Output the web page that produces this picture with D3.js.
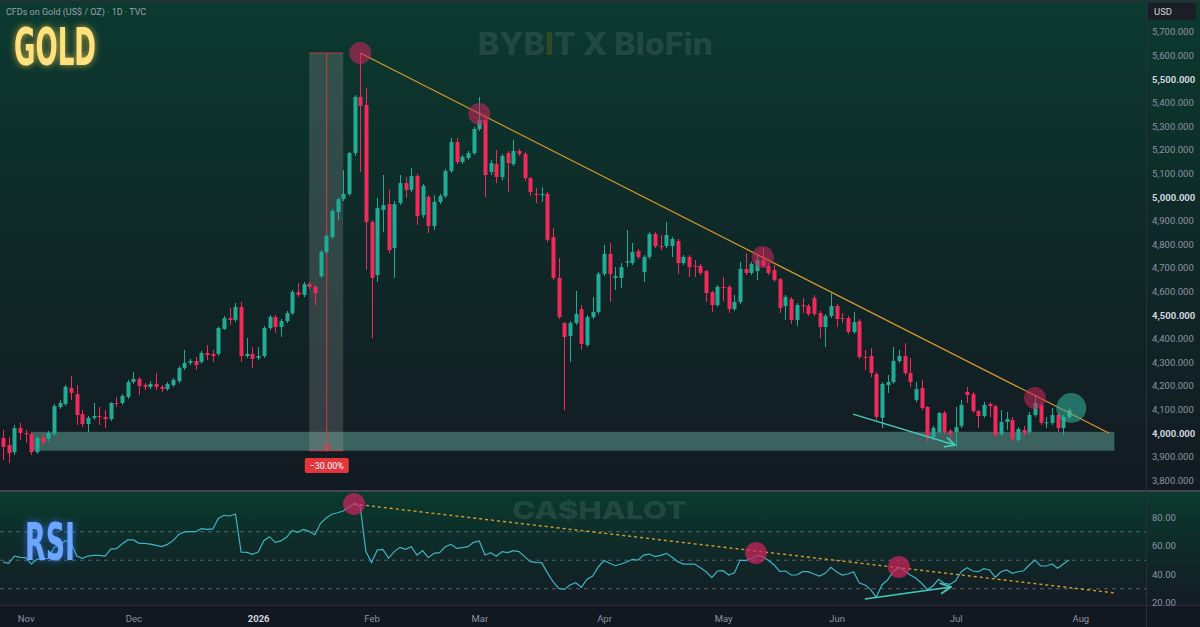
<!DOCTYPE html>
<html>
<head>
<meta charset="utf-8">
<script src="https://cdn.jsdelivr.net/npm/d3@7"></script>
<style>
html, body { margin: 0; padding: 0; background: #131722; overflow: hidden; }
</style>
</head>
<body>
<svg id="chart" width="1200" height="627"></svg>
<script>
// daily candles (USD / oz)
var opens = [3979,3949,3919,4021,4000,3996,3919,3979,3975,3996,
4110,4123,4191,4165,4080,4038,4064,4072,4068,4059,
4127,4127,4153,4216,4229,4203,4195,4208,4195,4186,
4203,4220,4275,4297,4305,4301,4339,4335,4335,4441,
4487,4479,4534,4326,4335,4318,4326,4445,4491,4449,
4474,4508,4597,4585,4631,4619,4665,4767,4830,4936,
4991,5013,5186,5424,5390,4894,4669,4945,4970,4784,
4975,5059,5030,5089,4923,5000,4877,4979,5004,5110,
5233,5148,5165,5186,5288,5326,5106,5140,5085,5186,
5140,5195,5182,5080,5013,5008,5013,4830,4657,4466,
4411,4466,4525,4373,4491,4513,4674,4759,4657,4657,
4722,4720,4771,4682,4746,4843,4792,4792,4792,4813,
4720,4746,4708,4708,4686,4597,4542,4619,4619,4525,
4555,4695,4678,4686,4733,4708,4691,4652,4538,4568,
4479,4542,4538,4572,4508,4449,4496,4538,4487,4487,
4428,4474,4322,4326,4250,4064,4203,4216,4305,4326,
4254,4140,4191,4110,3983,4004,4085,4009,4004,4030,
4174,4165,4093,4072,4123,4114,3996,4047,4055,3970,
4013,4004,4076,4119,4043,4043,4076,4021,4068];
var highs = [4013,3983,4034,4043,4013,4005,3987,3996,4009,4123,
4140,4203,4242,4203,4097,4072,4127,4110,4097,4131,
4153,4165,4225,4259,4237,4212,4220,4254,4203,4216,
4233,4284,4352,4314,4322,4348,4373,4352,4450,4496,
4530,4551,4555,4403,4364,4364,4453,4500,4500,4483,
4517,4606,4636,4640,4640,4627,4775,4843,4949,4996,
5114,5191,5432,5610,5462,4902,4996,5093,5030,4983,
5093,5085,5123,5098,5055,5008,5008,5013,5119,5250,
5250,5178,5195,5297,5424,5335,5157,5199,5182,5195,
5242,5204,5191,5085,5038,5042,5021,4869,4741,4470,
4474,4602,4542,4500,4576,4682,4797,4805,4703,4720,
4860,4805,4780,4754,4851,4851,4839,4894,4830,4822,
4754,4754,4733,4716,4691,4602,4627,4661,4627,4585,
4725,4762,4725,4754,4784,4720,4712,4657,4585,4576,
4551,4572,4547,4585,4517,4504,4593,4547,4508,4496,
4513,4483,4352,4360,4259,4216,4246,4364,4352,4381,
4318,4216,4225,4114,4030,4089,4093,4017,4110,4140,
4195,4174,4097,4131,4131,4119,4097,4089,4068,4025,
4030,4089,4161,4127,4068,4106,4085,4076,4106];
var lows = [3886,3873,3907,3970,3958,3907,3911,3949,3966,3987,
4102,4114,4140,4034,4025,4004,4055,4034,4021,4051,
4110,4119,4144,4208,4161,4182,4186,4182,4174,4178,
4195,4212,4267,4288,4267,4293,4309,4301,4326,4436,
4458,4470,4301,4318,4275,4309,4318,4436,4424,4407,
4466,4500,4576,4576,4610,4542,4657,4759,4822,4902,
4983,5004,5174,5106,4691,4402,4640,4851,4762,4657,
4966,4996,5021,4881,4911,4847,4860,4970,4996,5102,
5140,5140,5157,5178,5280,4999,5093,5059,5072,5021,
5131,5174,5068,5004,4974,4979,4809,4648,4483,4097,
4301,4458,4352,4364,4483,4504,4665,4555,4606,4614,
4703,4712,4737,4640,4737,4784,4775,4784,4746,4674,
4712,4661,4661,4669,4555,4513,4534,4559,4508,4517,
4547,4669,4669,4648,4699,4669,4640,4508,4479,4462,
4453,4508,4496,4496,4402,4364,4487,4449,4466,4419,
4419,4314,4267,4237,4055,4021,4170,4208,4297,4246,
4195,4131,4097,3962,3970,3996,3996,3970,3941,4021,
4127,4085,4021,4064,4068,3983,3987,4013,3966,3962,
3987,3996,4068,4034,4021,4034,4004,3991,4059];
var closes = [3941,3915,4021,4000,3996,3919,3979,3962,4000,4114,
4127,4195,4170,4076,4038,4064,4072,4068,4059,4127,
4123,4157,4216,4229,4199,4195,4208,4195,4186,4208,
4225,4275,4297,4305,4288,4339,4330,4326,4445,4487,
4479,4534,4326,4335,4314,4326,4445,4491,4449,4474,
4508,4597,4585,4631,4619,4593,4767,4835,4941,4991,
5013,5186,5424,5386,4894,4657,4953,4966,4775,4970,
5059,5030,5089,4919,5047,4877,4979,5004,5110,5233,
5148,5170,5186,5288,5326,5093,5144,5085,5174,5144,
5195,5182,5080,5021,5008,5013,4818,4657,4491,4407,
4466,4504,4377,4491,4513,4674,4759,4674,4665,4703,
4728,4767,4746,4746,4843,4792,4790,4839,4822,4720,
4746,4703,4706,4678,4593,4542,4619,4617,4525,4555,
4695,4678,4716,4733,4708,4678,4648,4530,4576,4479,
4542,4538,4504,4504,4449,4496,4538,4483,4483,4428,
4470,4322,4318,4254,4068,4208,4216,4305,4326,4254,
4216,4186,4106,3983,4021,4085,4004,3996,4025,4119,
4161,4093,4072,4119,4114,3991,4047,4059,3975,4017,
4000,4076,4127,4043,4045,4076,4021,4068,4097];

// RSI (14)
var rsi = [48.4,47.5,52.6,51.7,51.5,47.0,50.3,50.8,51.0,58.7,
60.4,63.4,62.0,52.6,51.0,52.6,53.1,53.1,52.6,57.5,
57.8,61.0,63.9,63.9,61.5,61.5,61.0,60.1,59.2,60.8,
63.4,67.8,69.5,69.7,69.7,71.8,71.3,71.6,79.1,81.2,
80.7,82.1,55.4,55.2,53.8,55.4,63.4,66.2,62.2,63.2,
65.7,70.4,69.2,71.3,69.9,67.6,75.6,79.3,81.9,83.0,
84.2,86.8,89.6,87.3,55.7,48.0,56.8,57.3,51.0,55.7,
58.7,57.3,59.2,53.3,56.4,51.5,54.5,55.0,59.2,60.8,
58.0,58.5,59.2,62.2,63.2,53.3,55.0,52.4,55.7,55.0,
56.4,55.7,52.2,48.7,48.2,48.0,41.0,34.6,29.9,29.2,
32.3,33.9,30.6,36.3,38.6,45.1,49.4,47.5,45.8,47.0,
48.4,50.3,49.8,53.3,54.0,52.2,53.1,54.5,51.7,48.7,
47.0,47.0,47.0,44.4,41.6,37.4,42.1,42.3,39.3,40.9,
49.8,49.4,51.0,53.1,52.2,49.4,46.3,41.9,42.1,39.3,
39.3,41.6,41.6,40.0,38.6,40.5,44.7,41.6,39.3,40.0,
41.6,33.9,32.3,29.2,23.6,32.3,35.8,41.6,44.7,42.1,
39.3,37.0,33.5,29.2,31.6,36.3,33.5,32.7,35.3,41.6,
44.4,42.1,41.6,43.7,42.8,37.7,41.6,42.8,40.5,41.6,
42.3,46.3,49.8,45.6,45.6,47.0,44.0,47.0,49.8];

// axis labels
var monthLabels = ["Nov","Dec","2026","Feb","Mar","Apr","May","Jun","Jul","Aug"];
var monthBars = [4,23,45,65,84,106,127,147,168,190];
var priceTicks = [3800,3900,4000,4100,4200,4300,4400,4500,4600,4700,4800,4900,5000,5100,5200,5300,5400,5500,5600,5700];
var rsiTicks = [20,40,60,80];
var rsiLevels = [30,50,70];

// drawings (bar index / price or rsi value)
var priceHighs = [[63,5610],[84,5352],[134,4746],[182,4148]];
var breakout = [188.4,4106];
var trendLine = [[63,5610],[195,4000]];
var supportZone = {from:5, to:196, low:3925, high:4005};
var drawdown = {from:54, to:60, mid:57.1, top:5610, bottom:3925, label:"\u221230.00%"};
var priceArrow = [[149.9,4080],[167.9,3949]];
var rsiHighs = [[61.9,89.1],[132.8,54.7],[158,44.9]];
var rsiTrend = [[61.9,89.1],[196.1,26.7]];
var rsiArrow = [[152,22.5],[167.2,30.9]];

var W = 1200, H = 627, axisX = 1146, paneSplit = 491, rsiBottom = 605;
var up = "#22ab94", down = "#f2295b";

var svg = d3.select("#chart");
var defs = svg.append("defs");

var g1 = defs.append("linearGradient").attr("id","bgMain").attr("x1",0).attr("y1",0).attr("x2",0).attr("y2",1);
g1.append("stop").attr("offset","0%").attr("stop-color","#0b3a2f");
g1.append("stop").attr("offset","45%").attr("stop-color","#0f2a28");
g1.append("stop").attr("offset","100%").attr("stop-color","#131a22");
var g2 = defs.append("linearGradient").attr("id","bgRsi").attr("x1",0).attr("y1",0).attr("x2",0).attr("y2",1);
g2.append("stop").attr("offset","0%").attr("stop-color","#0a3a2d");
g2.append("stop").attr("offset","100%").attr("stop-color","#141b24");

// soft halo behind the big labels
function glow(id, sd, color){
  var f = defs.append("filter").attr("id",id).attr("x","-40%").attr("y","-40%").attr("width","180%").attr("height","180%");
  f.append("feGaussianBlur").attr("in","SourceAlpha").attr("stdDeviation",sd).attr("result","b");
  f.append("feFlood").attr("flood-color",color).attr("flood-opacity",0.75).attr("result","c");
  f.append("feComposite").attr("in","c").attr("in2","b").attr("operator","in").attr("result","halo");
  var m = f.append("feMerge");
  m.append("feMergeNode").attr("in","halo");
  m.append("feMergeNode").attr("in","SourceGraphic");
}
glow("glowGold", 3.5, "#f5c842");
glow("glowBlue", 3.5, "#2f7bff");

function arrowMarker(id, color){
  defs.append("marker").attr("id",id).attr("viewBox","0 0 10 10").attr("refX",9).attr("refY",5)
    .attr("markerWidth",9).attr("markerHeight",9).attr("orient","auto")
    .append("path").attr("d","M1,1 L9,5 L1,9").attr("fill","none").attr("stroke",color).attr("stroke-width",1.4);
}
arrowMarker("arrTeal","#45c9b8");
arrowMarker("arrRed","#f23645");

defs.append("clipPath").attr("id","clipMain").append("rect").attr("x",0).attr("y",0).attr("width",axisX).attr("height",paneSplit);
defs.append("clipPath").attr("id","clipRsi").append("rect").attr("x",0).attr("y",paneSplit).attr("width",axisX).attr("height",rsiBottom-paneSplit);

// backgrounds
svg.append("rect").attr("width",W).attr("height",H).attr("fill","#131722");
svg.append("rect").attr("x",0).attr("y",0).attr("width",W).attr("height",paneSplit).attr("fill","url(#bgMain)");
svg.append("rect").attr("x",0).attr("y",paneSplit).attr("width",W).attr("height",rsiBottom-paneSplit).attr("fill","url(#bgRsi)");

// scales
var x = d3.scaleLinear().domain([0,188]).range([3,1069]);
var y = d3.scaleLinear().domain([4000,5000]).range([433,197]);
var yr = d3.scaleLinear().domain([40,80]).range([574,517]);

// watermarks
var wm = svg.append("g").attr("fill","#ffffff").attr("fill-opacity",0.11)
  .attr("font-family","Inter, 'Liberation Sans', sans-serif").attr("font-weight",800);
var bb = wm.append("text").attr("x",478).attr("y",55).attr("font-size",31).attr("textLength",235).attr("lengthAdjust","spacingAndGlyphs");
bb.append("tspan").text("BYB");
bb.append("tspan").attr("fill","#f7a600").attr("fill-opacity",0.16).text("I");
bb.append("tspan").text("T  X  BloFin");
wm.append("text").attr("x",512).attr("y",519).attr("font-size",25).attr("textLength",175).attr("lengthAdjust","spacingAndGlyphs").text("CA$HALOT");

var main = svg.append("g").attr("clip-path","url(#clipMain)");

// support zone
main.append("rect")
  .attr("x",x(supportZone.from)).attr("width",x(supportZone.to)-x(supportZone.from))
  .attr("y",y(supportZone.high)).attr("height",y(supportZone.low)-y(supportZone.high))
  .attr("fill","#7fd1c0").attr("fill-opacity",0.38);

// drawdown measure
var ddx0 = x(drawdown.from), ddx1 = x(drawdown.to), ddm = x(drawdown.mid);
main.append("rect").attr("x",ddx0).attr("width",ddx1-ddx0)
  .attr("y",y(drawdown.top)).attr("height",y(drawdown.bottom)-y(drawdown.top))
  .attr("fill","#b0b0b0").attr("fill-opacity",0.22);
main.selectAll("line.ddh").data([drawdown.top, drawdown.bottom]).enter().append("line")
  .attr("x1",ddx0).attr("x2",ddx1).attr("y1",function(d){return y(d);}).attr("y2",function(d){return y(d);})
  .attr("stroke","#f23645").attr("stroke-opacity",0.8).attr("stroke-width",1);
main.append("line").attr("x1",ddm).attr("x2",ddm).attr("y1",y(drawdown.top)).attr("y2",y(drawdown.bottom))
  .attr("stroke","#f23645").attr("stroke-opacity",0.85).attr("stroke-width",1).attr("marker-end","url(#arrRed)");

// candles
var bars = d3.range(closes.length).map(function(i){
  return {i:i, o:opens[i], h:highs[i], l:lows[i], c:closes[i]};
});
var cg = main.append("g");
cg.selectAll("line.wick").data(bars).enter().append("line")
  .attr("x1",function(d){return Math.round(x(d.i))+0.5;}).attr("x2",function(d){return Math.round(x(d.i))+0.5;})
  .attr("y1",function(d){return y(d.h);}).attr("y2",function(d){return y(d.l);})
  .attr("stroke",function(d){return d.c>=d.o?up:down;}).attr("stroke-width",1);
cg.selectAll("rect.body").data(bars).enter().append("rect")
  .attr("x",function(d){return Math.round(x(d.i))-1.5;}).attr("width",4)
  .attr("y",function(d){return y(Math.max(d.o,d.c));})
  .attr("height",function(d){return Math.max(1,Math.abs(y(d.o)-y(d.c)));})
  .attr("fill",function(d){return d.c>=d.o?up:down;});

// trend line and marks
main.append("line")
  .attr("x1",x(trendLine[0][0])).attr("y1",y(trendLine[0][1]))
  .attr("x2",x(trendLine[1][0])).attr("y2",y(trendLine[1][1]))
  .attr("stroke","#d79a2b").attr("stroke-width",1.2);
main.selectAll("circle.hi").data(priceHighs).enter().append("circle")
  .attr("cx",function(d){return x(d[0]);}).attr("cy",function(d){return y(d[1]);}).attr("r",11)
  .attr("fill","#d2245e").attr("fill-opacity",0.55);
main.append("circle").attr("cx",x(breakout[0])).attr("cy",y(breakout[1])).attr("r",15)
  .attr("fill","#34b59c").attr("fill-opacity",0.55);
main.append("line")
  .attr("x1",x(priceArrow[0][0])).attr("y1",y(priceArrow[0][1]))
  .attr("x2",x(priceArrow[1][0])).attr("y2",y(priceArrow[1][1]))
  .attr("stroke","#45c9b8").attr("stroke-width",1.4).attr("marker-end","url(#arrTeal)");

// drawdown label
svg.append("rect").attr("x",ddm-22).attr("y",458).attr("width",44).attr("height",15).attr("rx",2).attr("fill","#e2363c");
svg.append("text").attr("x",ddm).attr("y",468.5).attr("text-anchor","middle").attr("fill","#ffffff")
  .attr("font-family","Roboto, sans-serif").attr("font-size",9).text(drawdown.label);

// RSI pane
var rp = svg.append("g").attr("clip-path","url(#clipRsi)");
rp.selectAll("line.lvl").data(rsiLevels).enter().append("line")
  .attr("x1",0).attr("x2",axisX).attr("y1",function(d){return yr(d)+0.5;}).attr("y2",function(d){return yr(d)+0.5;})
  .attr("stroke","#787b86").attr("stroke-opacity",0.7).attr("stroke-dasharray","4,4");
rp.append("line")
  .attr("x1",x(rsiTrend[0][0])).attr("y1",yr(rsiTrend[0][1]))
  .attr("x2",x(rsiTrend[1][0])).attr("y2",yr(rsiTrend[1][1]))
  .attr("stroke","#d79a2b").attr("stroke-width",1.4).attr("stroke-dasharray","3,3");
rp.append("path").datum(rsi)
  .attr("d",d3.line().x(function(d,i){return x(i);}).y(function(d){return yr(d);}))
  .attr("fill","none").attr("stroke","#3fb3c3").attr("stroke-width",1.2);
rp.selectAll("circle.rh").data(rsiHighs).enter().append("circle")
  .attr("cx",function(d){return x(d[0]);}).attr("cy",function(d){return yr(d[1]);}).attr("r",11)
  .attr("fill","#d2245e").attr("fill-opacity",0.7);
rp.append("line")
  .attr("x1",x(rsiArrow[0][0])).attr("y1",yr(rsiArrow[0][1]))
  .attr("x2",x(rsiArrow[1][0])).attr("y2",yr(rsiArrow[1][1]))
  .attr("stroke","#45c9b8").attr("stroke-width",1.5).attr("marker-end","url(#arrTeal)");

// pane borders
svg.append("line").attr("x1",0).attr("x2",W).attr("y1",paneSplit).attr("y2",paneSplit).attr("stroke","#434651").attr("stroke-width",2);
svg.append("line").attr("x1",axisX+0.5).attr("x2",axisX+0.5).attr("y1",0).attr("y2",H).attr("stroke","#2a2e39");
svg.append("line").attr("x1",0).attr("x2",W).attr("y1",rsiBottom+0.5).attr("y2",rsiBottom+0.5).attr("stroke","#2a2e39");
svg.append("rect").attr("x",0).attr("y",0).attr("width",W).attr("height",1.5).attr("fill","#2a2e39");

// price axis
var pa = svg.append("g").attr("transform","translate(" + (axisX+6) + ",0)")
  .call(d3.axisRight(y).tickValues(priceTicks).tickFormat(d3.format(",.3f")).tickSize(0).tickPadding(0));
pa.select(".domain").remove();
pa.selectAll("text").attr("font-family","Roboto, sans-serif").attr("font-size",9.5)
  .attr("fill",function(d){return d%500===0?"#d1d4dc":"#8c93a0";})
  .attr("font-weight",function(d){return d%500===0?"bold":"normal";});

svg.append("rect").attr("x",axisX+2).attr("y",3).attr("width",48).attr("height",17).attr("rx",2).attr("fill","#1b1e25");
svg.append("text").attr("x",axisX+8).attr("y",15).attr("fill","#d1d4dc").attr("font-family","Roboto, sans-serif").attr("font-size",9.5).text("USD");

// rsi axis
var ra = svg.append("g").attr("transform","translate(" + (axisX+6) + ",0)")
  .call(d3.axisRight(yr).tickValues(rsiTicks).tickFormat(d3.format(".2f")).tickSize(0).tickPadding(0));
ra.select(".domain").remove();
ra.selectAll("text").attr("font-family","Roboto, sans-serif").attr("font-size",9.5).attr("fill","#8c93a0");

// time axis
var ta = svg.append("g").attr("transform","translate(0," + (rsiBottom+3) + ")")
  .call(d3.axisBottom(x).tickValues(monthBars).tickFormat(function(d,k){return monthLabels[k];}).tickSize(0).tickPadding(7));
ta.select(".domain").remove();
ta.selectAll("text").attr("font-family","Roboto, sans-serif").attr("font-size",9.5)
  .attr("fill",function(d,k){return monthLabels[k]==="2026"?"#d1d4dc":"#8c93a0";})
  .attr("font-weight",function(d,k){return monthLabels[k]==="2026"?"bold":"normal";});

// titles
svg.append("text").attr("x",6).attr("y",15).attr("fill","#9ba1ad").attr("font-family","Roboto, sans-serif")
  .attr("font-size",9).text("CFDs on Gold (US$ / OZ) \u00b7 1D \u00b7 TVC");
svg.append("text").attr("x",14).attr("y",65).attr("fill","#ffe27e").attr("filter","url(#glowGold)")
  .attr("font-family","'Liberation Sans Narrow','DejaVu Sans Condensed',sans-serif").attr("font-weight","bold")
  .attr("font-size",51).attr("textLength",82).attr("lengthAdjust","spacingAndGlyphs").text("GOLD");
svg.append("text").attr("x",25).attr("y",560).attr("fill","#6ea6ff").attr("filter","url(#glowBlue)")
  .attr("font-family","'Liberation Sans Narrow','DejaVu Sans Condensed',sans-serif").attr("font-weight","bold")
  .attr("font-size",52).attr("textLength",50).attr("lengthAdjust","spacingAndGlyphs").text("RSI");
</script>
</body>
</html>
